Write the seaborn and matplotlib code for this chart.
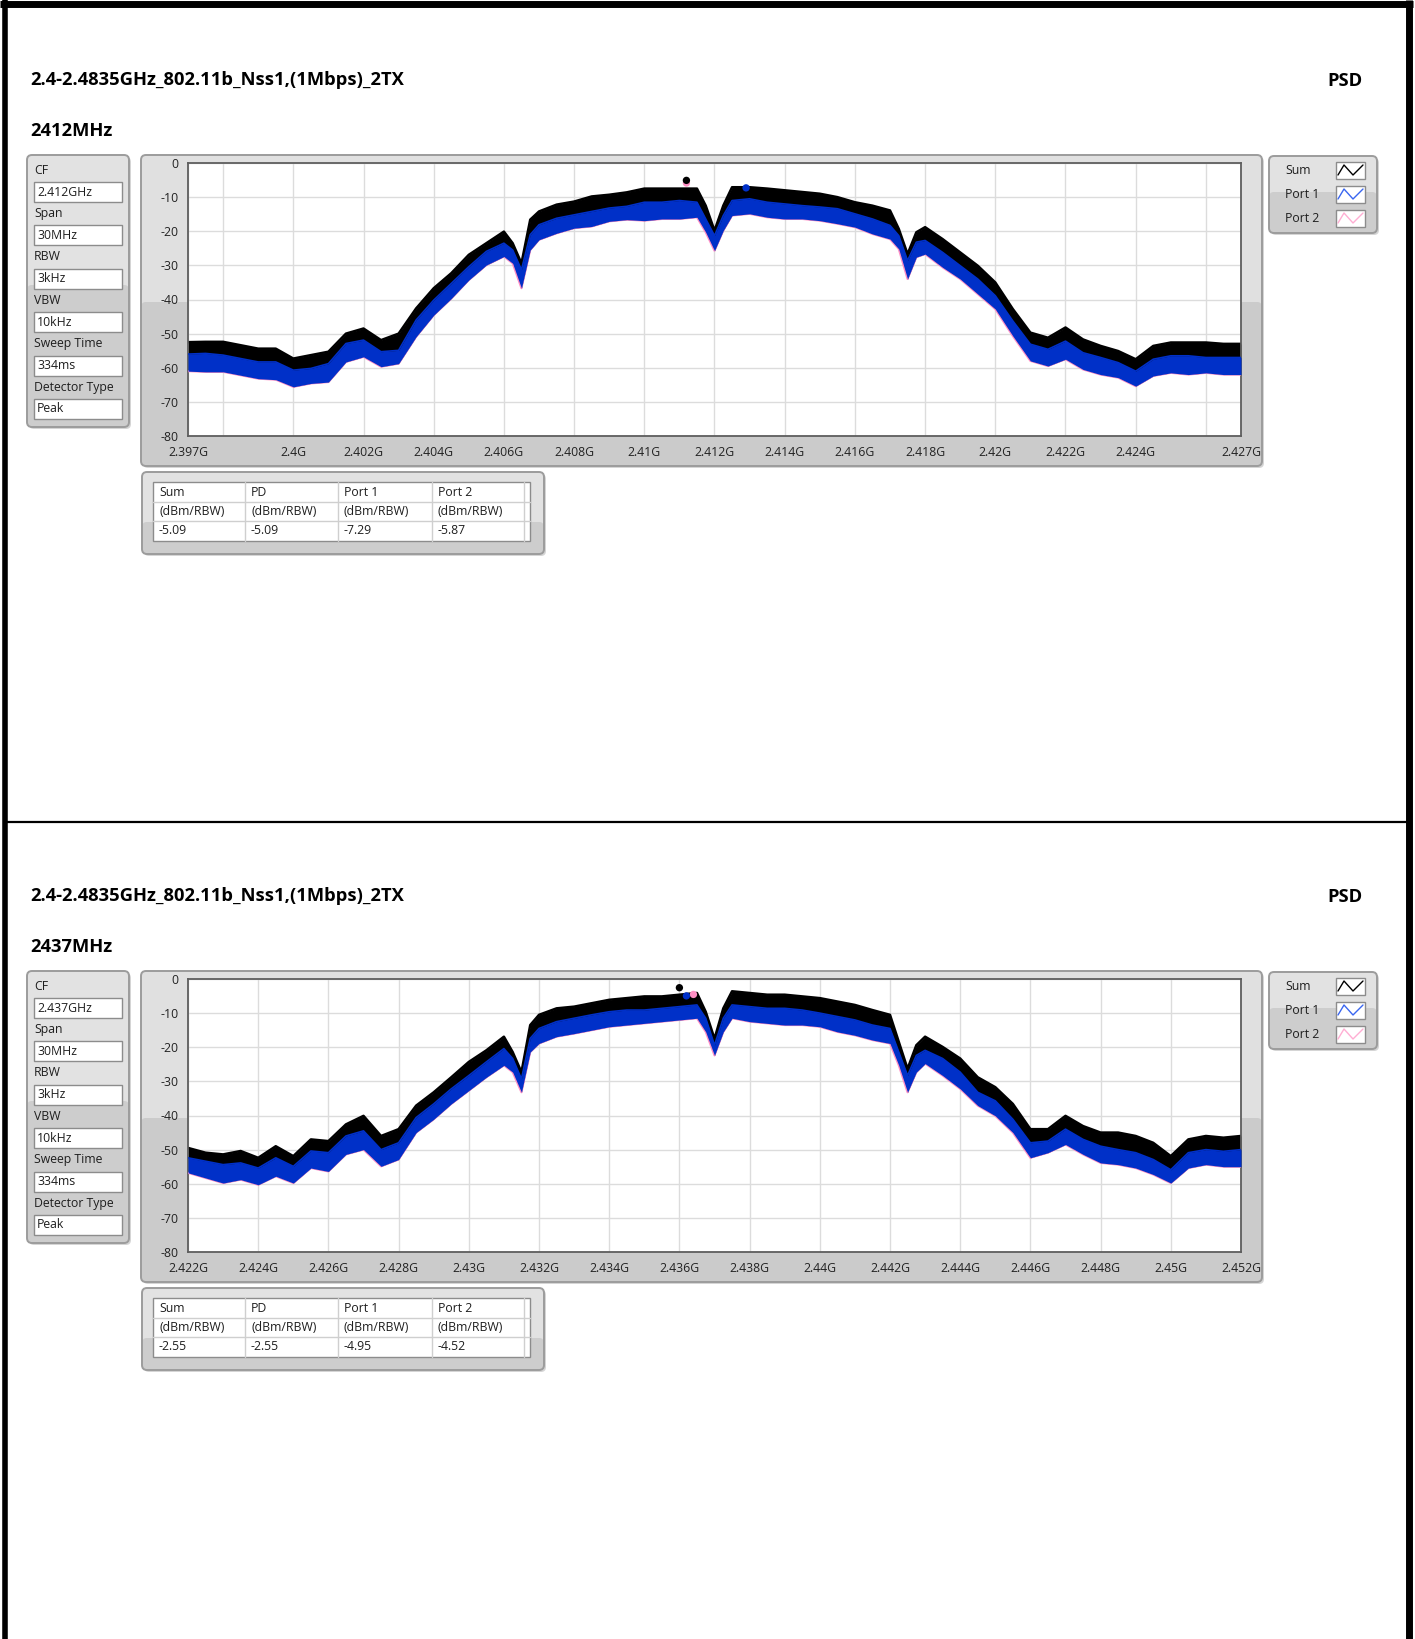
import numpy as np
import pandas as pd
import seaborn as sns
import matplotlib.pyplot as plt
from matplotlib.patches import FancyBboxPatch, Rectangle

sns.set_style("white")
plt.rcParams['font.family'] = ['Open Sans', 'DejaVu Sans']

# ---- data ----
title = "2.4-2.4835GHz_802.11b_Nss1,(1Mbps)_2TX"
channels = ["2412MHz", "2437MHz"]
centers_ghz = [2.412, 2.437]

setting_names = ["CF", "Span", "RBW", "VBW", "Sweep Time", "Detector Type"]
settings_2412 = ["2.412GHz", "30MHz", "3kHz", "10kHz", "334ms", "Peak"]
settings_2437 = ["2.437GHz", "30MHz", "3kHz", "10kHz", "334ms", "Peak"]

table_head = ["Sum", "PD", "Port 1", "Port 2"]
table_unit = ["(dBm/RBW)", "(dBm/RBW)", "(dBm/RBW)", "(dBm/RBW)"]
table_2412 = ["-5.09", "-5.09", "-7.29", "-5.87"]
table_2437 = ["-2.55", "-2.55", "-4.95", "-4.52"]

legend_names = ["Sum", "Port 1", "Port 2"]

# frequency offset from the centre (MHz) where the envelopes were read
offset_mhz = [-15, -14.5, -14, -13.5, -13, -12.5, -12, -11.5, -11, -10.5, -10, -9.5, -9,
              -8.5, -8, -7.5, -7, -6.5, -6, -5.75, -5.5, -5.25, -5, -4.5, -4, -3.5, -3,
              -2.5, -2, -1.5, -1, -0.5, -0.25, 0, 0.25, 0.5, 1, 1.5, 2, 2.5, 3, 3.5, 4,
              4.5, 5, 5.25, 5.5, 5.75, 6, 6.5, 7, 7.5, 8, 8.5, 9, 9.5, 10, 10.5, 11,
              11.5, 12, 12.5, 13, 13.5, 14, 14.5, 15]

# 2412 MHz: top of Sum trace, top / bottom of the Port traces (dBm)
sum_top_2412 = [-52.5, -52.4, -52.4, -53.4, -54.4, -54.4, -57.3, -56.3, -55.3, -50.0, -48.5,
                -51.9, -50.0, -42.6, -36.7, -32.3, -26.9, -23.5, -20.1, -23.5, -29.4, -16.6,
                -14.2, -12.2, -11.3, -9.8, -9.3, -8.6, -7.5, -7.5, -7.5, -7.5, -12.5, -19.8,
                -12.5, -7.1, -7.1, -7.5, -8.0, -8.5, -9.0, -10.0, -11.5, -12.5, -13.9, -19.3,
                -26.7, -20.3, -18.8, -22.3, -26.2, -30.1, -35.0, -42.8, -49.7, -51.2, -48.2,
                -51.7, -53.6, -55.1, -57.5, -53.6, -52.6, -52.6, -52.6, -53.0, -53.0]
port_top_2412 = [-56.0, -55.8, -56.3, -57.3, -58.3, -58.3, -60.7, -60.2, -58.8, -52.9, -51.9,
                 -55.3, -54.9, -46.0, -40.2, -35.3, -30.4, -25.9, -23.5, -25.5, -31.3, -21.0,
                 -18.1, -16.2, -15.2, -14.2, -13.2, -12.7, -11.5, -11.5, -11.0, -11.5, -16.4,
                 -21.3, -15.4, -11.0, -10.5, -11.5, -12.0, -12.5, -12.9, -13.4, -14.9, -16.4,
                 -18.3, -21.3, -28.6, -23.2, -22.7, -26.2, -30.1, -34.0, -38.9, -46.3, -53.1,
                 -54.6, -52.2, -55.6, -57.0, -58.5, -61.0, -57.5, -56.5, -56.5, -57.0, -57.0,
                 -57.0]
port_bot_2412 = [-61.0, -61.2, -61.2, -62.2, -63.2, -63.5, -65.6, -64.6, -64.2, -58.3, -56.8,
                 -59.7, -58.8, -50.9, -44.6, -39.7, -34.3, -29.9, -27.4, -29.4, -36.7, -25.5,
                 -22.5, -20.6, -19.1, -18.6, -17.1, -16.6, -16.9, -16.4, -16.4, -15.9, -20.3,
                 -25.7, -19.8, -15.4, -14.9, -15.9, -16.4, -16.4, -16.9, -17.8, -18.8, -20.8,
                 -22.3, -25.2, -34.0, -27.6, -26.7, -30.6, -34.0, -38.4, -42.8, -50.7, -58.0,
                 -59.5, -57.5, -60.5, -62.0, -62.9, -65.4, -62.4, -61.5, -62.0, -61.5, -62.0,
                 -62.0]

# 2437 MHz
sum_top_2437 = [-49.5, -50.9, -51.4, -50.4, -52.4, -49.0, -51.9, -47.0, -47.5, -42.6, -40.1,
                -46.0, -44.0, -37.1, -33.2, -28.8, -24.3, -20.9, -16.9, -21.4, -27.3, -13.5,
                -10.5, -8.6, -8.1, -7.1, -6.1, -5.6, -5.1, -5.1, -4.6, -4.1, -9.6, -17.5,
                -8.6, -3.6, -4.1, -4.6, -4.6, -5.1, -5.6, -6.6, -7.6, -9.1, -10.5, -18.4,
                -26.3, -19.4, -16.9, -19.9, -23.3, -28.8, -31.7, -36.6, -44.0, -44.0, -40.1,
                -43.1, -45.0, -45.0, -46.0, -48.0, -51.9, -47.0, -46.0, -46.5, -46.0]
port_top_2437 = [-52.4, -53.4, -54.4, -53.9, -55.4, -52.4, -54.9, -50.4, -50.9, -46.0, -44.5,
                 -50.0, -48.0, -40.6, -36.6, -32.2, -28.3, -24.3, -20.4, -23.3, -29.3, -17.4,
                 -14.5, -12.5, -11.5, -10.5, -9.6, -9.1, -9.1, -8.6, -8.1, -7.6, -11.5, -19.4,
                 -11.5, -7.6, -8.1, -8.6, -8.6, -9.1, -10.0, -11.0, -12.0, -13.5, -14.5, -21.4,
                 -28.3, -22.4, -20.9, -23.3, -27.3, -33.2, -35.7, -41.1, -48.0, -47.5, -44.0,
                 -47.0, -49.0, -50.0, -50.9, -52.9, -55.9, -50.9, -50.0, -50.5, -50.0]
port_bot_2437 = [-56.8, -58.3, -59.8, -58.8, -60.3, -57.8, -59.8, -55.4, -56.4, -51.4, -50.0,
                 -54.9, -52.9, -45.0, -41.1, -36.6, -32.7, -28.8, -25.3, -27.3, -33.2, -21.4,
                 -18.9, -16.9, -16.0, -15.0, -14.0, -13.5, -13.0, -12.5, -12.0, -11.5, -15.5,
                 -22.4, -15.5, -11.5, -12.5, -13.0, -13.5, -13.5, -14.0, -15.5, -16.5, -17.9,
                 -18.9, -25.3, -33.2, -27.3, -24.8, -28.3, -32.2, -37.1, -40.1, -45.0, -52.4,
                 -50.9, -48.5, -51.4, -53.9, -54.4, -55.4, -57.3, -59.8, -55.4, -54.4, -55.0,
                 -55.0]

# peak markers: Sum, Port 1, Port 2
marker_freq_2412 = [2.4112, 2.4129, 2.4112]
marker_level_2412 = [-5.09, -7.29, -5.87]
marker_freq_2437 = [2.4360, 2.4362, 2.4364]
marker_level_2437 = [-2.55, -4.95, -4.52]

# tick positions / labels of the frequency axis
xticks_2412 = [2.397] + [round(2.398 + 0.002 * i, 3) for i in range(15)] + [2.427]
xlabels_2412 = ["2.397G", ""] + [f"{round(2.400 + 0.002 * i, 3):g}G" for i in range(13)] + ["", "2.427G"]
xticks_2437 = [round(2.422 + 0.002 * i, 3) for i in range(16)]
xlabels_2437 = [f"{v:g}G" for v in xticks_2437]

C_SUM, C_P1, C_P2 = "#000000", "#0030c8", "#ff8fc4"

W, H = 1415, 1639
fig = plt.figure(figsize=(W / 100, H / 100), dpi=100)
bg = fig.add_axes([0, 0, 1, 1])
bg.set_xlim(0, W)
bg.set_ylim(H, 0)
bg.axis("off")


def frac(x0, y0, x1, y1):
    return [x0 / W, 1 - y1 / H, (x1 - x0) / W, (y1 - y0) / H]


def gui_box(x0, y0, x1, y1, split, light="#e2e2e2", dark="#cdcdcd"):
    bg.add_patch(FancyBboxPatch((x0 + 2, y0 + 2), x1 - x0, y1 - y0,
                                boxstyle="round,pad=0,rounding_size=5", fc="#d5d5d5", ec="none"))
    bg.add_patch(FancyBboxPatch((x0, y0), x1 - x0, y1 - y0,
                                boxstyle="round,pad=0,rounding_size=5", fc=light, ec="none"))
    bg.add_patch(FancyBboxPatch((x0, split), x1 - x0, y1 - split,
                                boxstyle="round,pad=0,rounding_size=5", fc=dark, ec="none"))
    bg.add_patch(FancyBboxPatch((x0, y0), x1 - x0, y1 - y0,
                                boxstyle="round,pad=0,rounding_size=5", fc="none",
                                ec="#9c9c9c", lw=1.4))


def draw_panel(dy, chan, center, settings, table_vals, sum_top, port_top, port_bot,
               mfreq, mlevel, xticks, xlabels):
    txt = "#1e1e1e"
    bg.text(30, 80 + dy, title, fontsize=13.2, fontweight="bold", va="center", color="black")
    bg.text(30, 131 + dy, chan, fontsize=13.2, fontweight="bold", va="center", color="black")
    bg.text(1327, 81 + dy, "PSD", fontsize=13.2, fontweight="bold", va="center", color="black")

    # settings column
    gui_box(27, 155 + dy, 129, 427 + dy, 285 + dy)
    for i, (name, val) in enumerate(zip(setting_names, settings)):
        ly = 170 + 43.4 * i + dy
        bg.text(34, ly, name, fontsize=8.8, va="center", color=txt)
        bg.add_patch(Rectangle((34, ly + 12), 88, 20, fc="white", ec="#8c8c8c", lw=1))
        bg.text(37, ly + 22, val, fontsize=8.8, va="center", color=txt)

    # graph frame
    gui_box(141, 155 + dy, 1262, 466 + dy, 302 + dy, light="#e0e0e0", dark="#cbcbcb")

    # legend
    gui_box(1269, 156 + dy, 1377, 233 + dy, 192 + dy)
    for i, (name, col) in enumerate(zip(legend_names, ["#000000", "#3a66f0", "#ffaed3"])):
        yc = 170 + 24 * i + dy
        bg.text(1285, yc, name, fontsize=8.8, va="center", color=txt)
        bg.add_patch(Rectangle((1336, yc - 8.5), 29, 17, fc="white", ec="#8c8c8c", lw=1))
        bg.plot([1338, 1344, 1353, 1363], [yc + 5, yc - 5, yc + 5, yc - 5], color=col, lw=1)

    # result table
    gui_box(142, 472 + dy, 544, 554 + dy, 522 + dy)
    bg.add_patch(Rectangle((153, 482 + dy), 377, 59, fc="white", ec="#8c8c8c", lw=1))
    for cx in [245, 338, 432, 524]:
        bg.plot([cx, cx], [482 + dy, 541 + dy], color="#cfcfcf", lw=1)
    for ry in [502, 521]:
        bg.plot([153, 530], [ry + dy, ry + dy], color="#cfcfcf", lw=1)
    for j, cx in enumerate([153, 245, 338, 432]):
        for k, row in enumerate([table_head, table_unit, table_vals]):
            bg.text(cx + 6, 492 + 19.5 * k + dy, row[j], fontsize=8.8, va="center", color=txt)

    # spectrum
    ax = fig.add_axes(frac(188, 163 + dy, 1241, 436 + dy))
    df = pd.DataFrame({"freq": [center + o / 1000 for o in offset_mhz],
                       "sum_top": sum_top, "port_top": port_top, "port_bot": port_bot})
    ax.fill_between(df["freq"], df["sum_top"], df["port_bot"], color=C_SUM, lw=0, zorder=2)
    sns.lineplot(data=df, x="freq", y="sum_top", ax=ax, color=C_SUM, lw=1.8, zorder=2)
    sns.lineplot(data=df, x="freq", y="port_bot", ax=ax, color=C_P2, lw=1.5, zorder=3)
    ax.fill_between(df["freq"], df["port_top"], df["port_bot"], color=C_P1, lw=0, zorder=4)
    sns.lineplot(data=df, x="freq", y="port_top", ax=ax, color=C_P1, lw=1.2, zorder=4)

    mk = pd.DataFrame({"freq": mfreq, "level": mlevel, "trace": legend_names})
    for name, col in [("Port 2", C_P2), ("Port 1", C_P1), ("Sum", C_SUM)]:
        sub = mk[mk["trace"] == name]
        sns.scatterplot(data=sub, x="freq", y="level", ax=ax, color=col, s=28,
                        edgecolor="none", zorder=6)

    ax.set_xlim(xticks[0], xticks[-1])
    ax.set_ylim(-80, 0)
    ax.set_xticks(xticks)
    ax.set_xticklabels(xlabels)
    ax.set_yticks(list(range(-80, 1, 10)))
    ax.set_yticklabels([str(v) for v in range(-80, 1, 10)])
    ax.set_xlabel("")
    ax.set_ylabel("")
    ax.set_facecolor("white")
    ax.grid(True, color="#dcdcdc", lw=1)
    ax.set_axisbelow(True)
    ax.tick_params(axis="both", direction="out", length=5, width=1.2, color="#444444",
                   labelsize=8.8, labelcolor="#222222", pad=2)
    for sp in ax.spines.values():
        sp.set_color("#5e5e5e")
        sp.set_linewidth(1.3)
    if ax.get_legend():
        ax.get_legend().remove()


draw_panel(0, channels[0], centers_ghz[0], settings_2412, table_2412, sum_top_2412,
           port_top_2412, port_bot_2412, marker_freq_2412, marker_level_2412,
           xticks_2412, xlabels_2412)
draw_panel(816, channels[1], centers_ghz[1], settings_2437, table_2437, sum_top_2437,
           port_top_2437, port_bot_2437, marker_freq_2437, marker_level_2437,
           xticks_2437, xlabels_2437)

# outer page borders
bg.plot([0, 1413], [3.5, 3.5], color="black", lw=5, solid_capstyle="butt")
bg.plot([4.5, 4.5], [0, H], color="black", lw=4, solid_capstyle="butt")
bg.plot([1408.5, 1408.5], [0, H], color="black", lw=5, solid_capstyle="butt")
bg.plot([4, 1408], [822, 822], color="black", lw=1.6, solid_capstyle="butt")

fig.savefig("out.png", dpi=100)
